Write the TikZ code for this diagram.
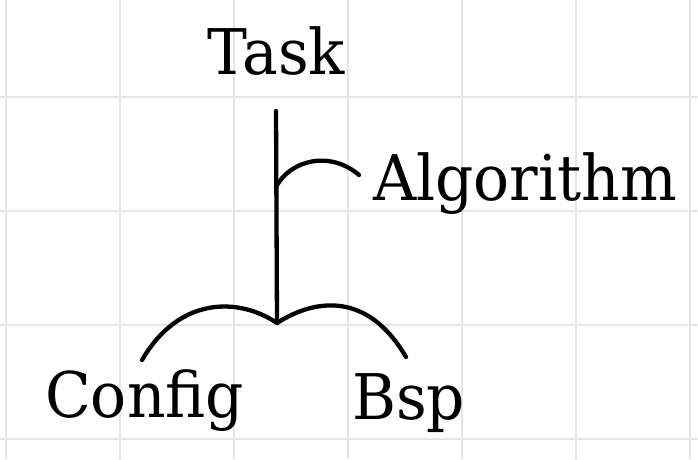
\documentclass[tikz,border=0pt]{standalone}
\usepackage{fontspec}
\setmainfont[FakeStretch=0.95]{DejaVu Serif}
\begin{document}
\begin{tikzpicture}[x=1pt,y=-1pt,
  gridline/.style={draw=black!10,line width=1.6pt},
  stroke/.style={draw=black,line width=4.3pt,line cap=round,line join=round},
  label/.style={anchor=base west,inner sep=0pt,font=\fontsize{63}{70}\selectfont}]
\fill[white] (0,0) rectangle (698,459);
\useasboundingbox (0,0) rectangle (698,459);
\foreach \x in {6,120,234,348,462,576,690} \draw[gridline] (\x,0) -- (\x,459);
\foreach \y in {97,211,325,439} \draw[gridline] (0,\y) -- (698,\y);
\node[label] (task) at (207,74) {Task};
\node[label] (alg) at (373,200) {Algorithm};
\node[label] (config) at (45,417) {Config};
\node[label] (bsp) at (352,419) {Bsp};
\coordinate (top) at (276,111);
\coordinate (j) at (277,323);
\coordinate (h) at (276,187);
\coordinate (ahook) at (359,175);
\coordinate (cend) at (142,360);
\coordinate (bend) at (406,357);
\draw[stroke] (top) -- (j);
\draw[stroke] (h) .. controls (290,160) and (330,150) .. (ahook);
\draw[stroke] (cend) .. controls (180,295) and (240,298) .. (j) .. controls (316,298) and (368,292) .. (bend);
\end{tikzpicture}
\end{document}
